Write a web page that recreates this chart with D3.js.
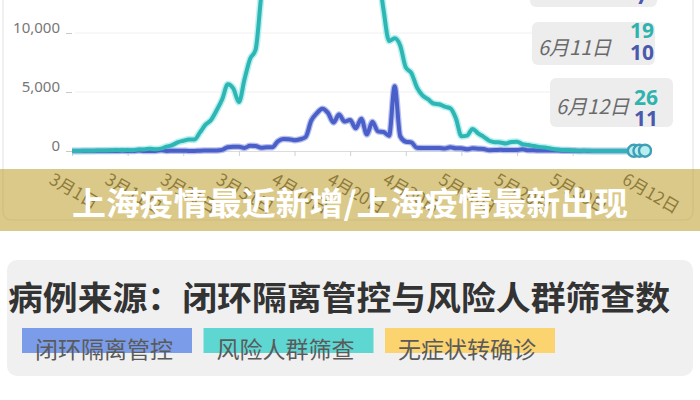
<!DOCTYPE html>
<html><head><meta charset="utf-8">
<script src="https://cdn.jsdelivr.net/npm/d3@7"></script>
<style>
html,body{margin:0;padding:0;background:#fff;overflow:hidden}
svg{display:block}
</style></head>
<body>
<svg id="c" width="700" height="400"></svg>
<script>
// ---------------- data ----------------
const startDate = "2022-03-01";
// 风险人群筛查 (teal) daily values, 3/1 .. 6/12
const tealMarch = [1,5,14,16,28,45,51,62,76,64,78,64,128,130,197,150,203,366,492,734,865,977,979,1580,2231,2631,3450,4381,5656,5298,4144];
const tealApril = [6051,7788,8581,13086,16766,19660,20398,22609,23937,25173,22348,25141,25146,19872,19923,21582,19831,17332,16407,15861,15698,20634,19657,16983,15319,11956,9330,9545,8932,7084];
const tealMay = [6606,5395,4722,4390,4024,3961,3760,3625,2780,1259,1305,1869,1487,1203,869,746,719,637,770,784,570,503,422,343,290,219,131,93,91,47,26];
const tealJune = [10,13,2,2,1,1,7,6,7,17,19,26];
// 闭环隔离管控 (blue) daily values, 3/1 .. 6/12
const blueMarch = [1,3,2,3,0,3,3,3,4,11,5,1,41,9,5,8,57,8,17,24,31,4,4,29,38,45,50,96,326,355,358];
const blueApril = [260,438,425,268,311,322,824,1015,1006,914,994,1189,2573,3200,3590,3238,2417,3084,2494,2634,1931,2736,1401,2472,1661,1606,1292,5487,1249,788];
const blueMay = [727,274,260,261,245,253,215,322,234,228,144,227,194,166,69,77,96,82,88,84,158,55,58,44,48,45,39,29,31,20,5];
const blueJune = [15,2,5,6,4,4,4,5,3,7,10,11];

const yTicks = [0, 5000, 10000];
const xTickDates = ["2022-03-01","2022-03-11","2022-03-21","2022-03-31","2022-04-10","2022-04-20","2022-04-30","2022-05-10","2022-05-20","2022-05-30","2022-06-12"];
const xTickLabels = ["3月1日","3月11日","3月21日","3月31日","4月10日","4月20日","4月30日","5月10日","5月20日","5月30日","6月12日"];

const markDates = ["2022-06-10","2022-06-11","2022-06-12"];
const markLabels = ["6月10日","6月11日","6月12日"];

const bannerTitle = "上海疫情最近新增/上海疫情最新出现";
const sectionTitle = "病例来源：闭环隔离管控与风险人群筛查数";
const legendNames = ["闭环隔离管控","风险人群筛查","无症状转确诊"];
const legendColors = ["#7b9ce8","#5ed6d2","#fbd36f"];

// ---------------- build ----------------
const teal = [...tealMarch, ...tealApril, ...tealMay, ...tealJune];
const blue = [...blueMarch, ...blueApril, ...blueMay, ...blueJune];
const parse = d3.timeParse("%Y-%m-%d");
const d0 = parse(startDate);
const dates = teal.map((_, i) => d3.timeDay.offset(d0, i));

const svg = d3.select("#c");
const CJK = "'Noto Sans CJK SC','Noto Sans',sans-serif";

const x = d3.scaleTime().domain([dates[0], dates[dates.length-1]]).range([72, 645]);
const y = d3.scaleLinear().domain([0, 10000]).range([151, 33]);

// chart card
svg.append("rect").attr("x",3).attr("y",-12).attr("width",690).attr("height",232)
  .attr("rx",8).attr("fill","#fff").attr("stroke","#e6e6e6").attr("stroke-width",1.2);

// grid lines
svg.append("g").selectAll("line").data(yTicks.filter(d=>d>0)).join("line")
  .attr("x1",75).attr("x2",650).attr("y1",d=>y(d)).attr("y2",d=>y(d))
  .attr("stroke","#f0f0f0").attr("stroke-width",1);

// y axis
const yAxis = svg.append("g").attr("transform","translate(72,0)")
  .call(d3.axisLeft(y).tickValues(yTicks).tickSize(6).tickPadding(6).tickFormat(d3.format(",")));
yAxis.select(".domain").remove();
yAxis.selectAll(".tick line").attr("stroke","#c8c8c8");
yAxis.selectAll(".tick text").attr("fill","#777").attr("font-size",15)
  .attr("font-family","'Noto Sans',sans-serif").attr("dy","-0.05em");

// x axis
const xAxis = svg.append("g").attr("transform","translate(0,151)")
  .call(d3.axisBottom(x).tickValues(xTickDates.map(parse)).tickSize(5).tickFormat(""));
xAxis.select(".domain").attr("stroke","#dcdcdc");
xAxis.selectAll(".tick line").attr("stroke","#d0d0d0");

// lines
const line = d3.line().x((d,i)=>x(dates[i])).y(d=>y(d)).curve(d3.curveMonotoneX);
svg.append("path").datum(teal).attr("d",line).attr("fill","none")
  .attr("stroke","#a9ecec").attr("stroke-width",7).attr("stroke-linejoin","round").attr("opacity",0.8);
svg.append("path").datum(blue).attr("d",line).attr("fill","none")
  .attr("stroke","#9aa6e6").attr("stroke-width",6.5).attr("stroke-linejoin","round").attr("opacity",0.7);
svg.append("path").datum(blue).attr("d",line).attr("fill","none")
  .attr("stroke","#4b5fc9").attr("stroke-width",4).attr("stroke-linejoin","round");
svg.append("path").datum(teal).attr("d",line).attr("fill","none")
  .attr("stroke","#2db6b3").attr("stroke-width",4).attr("stroke-linejoin","round");

// markers
const markIdx = markDates.map(s => d3.timeDay.count(d0, parse(s)));
svg.append("g").selectAll("circle").data(markIdx).join("circle")
  .attr("cx", i => x(dates[i])).attr("cy", i => y(teal[i]))
  .attr("r",6).attr("fill","#b8eef0").attr("stroke","#3f9fb6").attr("stroke-width",2.4);

// annotation boxes (layout only)
const boxLayout = [
  {x:530,y:-36,w:127,h:43,numR:648,tY:-25,bY:-4,dY:-14},
  {x:532,y:22,w:123,h:43,numR:654,tY:30,bY:52,dY:46},
  {x:550,y:78,w:123,h:49,numR:658,tY:97,bY:118,dY:105}
];
const ann = svg.append("g");
markIdx.forEach((i,k) => {
  const b = boxLayout[k];
  ann.append("rect").attr("x",b.x).attr("y",b.y).attr("width",b.w).attr("height",b.h)
    .attr("rx",6).attr("fill","#ededed");
  ann.append("text").attr("x",b.x+6).attr("y",b.dY).attr("dominant-baseline","central")
    .attr("font-family",CJK).attr("font-style","italic").attr("font-size",20).attr("fill","#6a6a6a")
    .text(markLabels[k]);
  ann.append("text").attr("x",b.numR).attr("y",b.tY).attr("dominant-baseline","central").attr("text-anchor","end")
    .attr("font-family","'Noto Sans',sans-serif").attr("font-weight","bold").attr("font-size",21).attr("fill","#2fb3ae")
    .text(teal[i]);
  ann.append("text").attr("x",b.numR).attr("y",b.bY).attr("dominant-baseline","central").attr("text-anchor","end")
    .attr("font-family","'Noto Sans',sans-serif").attr("font-weight","bold").attr("font-size",21).attr("fill","#4a59ae")
    .text(blue[i]);
});

// x tick labels (rotated)
svg.append("g").selectAll("text").data(xTickDates).join("text")
  .attr("transform",(d)=>`translate(${x(parse(d))-24},183) rotate(30)`)
  .attr("font-family",CJK).attr("font-size",17).attr("fill","#555")
  .text((d,k)=>xTickLabels[k]);

// banner overlay
svg.append("rect").attr("x",0).attr("y",169).attr("width",700).attr("height",62)
  .attr("fill","rgb(188,156,38)").attr("fill-opacity",0.54);
svg.append("text").attr("x",72).attr("y",201).attr("dominant-baseline","central")
  .attr("font-family",CJK).attr("font-weight","bold").attr("font-size",32).attr("fill","#fff")
  .attr("textLength",556).attr("lengthAdjust","spacingAndGlyphs")
  .text(bannerTitle);

// lower card
svg.append("rect").attr("x",7).attr("y",260).attr("width",686).attr("height",116)
  .attr("rx",10).attr("fill","#f0f0f1");
svg.append("text").attr("x",8).attr("y",296).attr("dominant-baseline","central")
  .attr("font-family",CJK).attr("font-weight","bold").attr("font-size",33).attr("fill","#333")
  .attr("textLength",662).attr("lengthAdjust","spacingAndGlyphs")
  .text(sectionTitle);

const chipX = d3.scalePoint().domain(legendNames).range([22,385]);
const leg = svg.append("g").selectAll("g").data(legendNames).join("g")
  .attr("transform",d=>`translate(${chipX(d)},328)`);
leg.append("rect").attr("width",170).attr("height",25).attr("fill",(d,i)=>legendColors[i]);
leg.append("text").attr("x",13).attr("y",20).attr("dominant-baseline","central")
  .attr("font-family",CJK).attr("font-size",23).attr("fill","#5a5a5a")
  .text(d=>d);
</script>
</body></html>
